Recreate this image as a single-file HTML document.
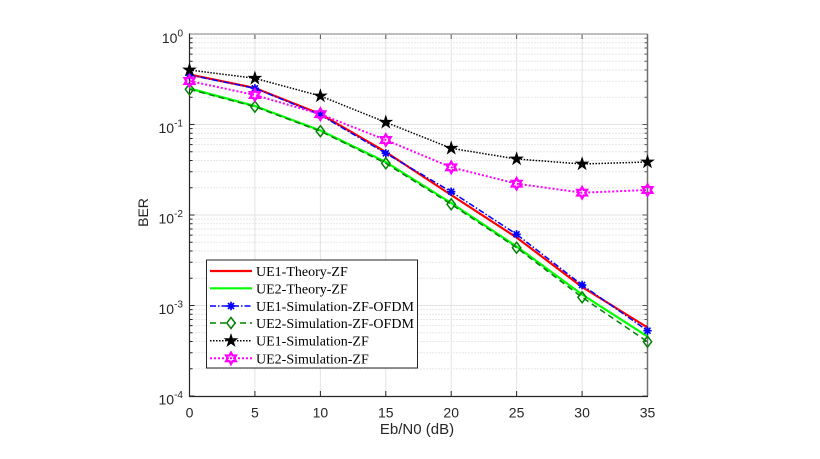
<!DOCTYPE html>
<html><head><meta charset="utf-8"><style>
html,body{margin:0;padding:0;background:#fff;}
svg{display:block;}
</style></head><body>
<svg width="820" height="459" viewBox="0 0 820 459" xmlns="http://www.w3.org/2000/svg">
<defs>
<g id="dec">
<path d="M189.5,4.1H647.5M189.5,8.8H647.5M189.5,14H647.5M189.5,20.1H647.5M189.5,27.2H647.5M189.5,36H647.5M189.5,47.3H647.5M189.5,63.2H647.5" stroke="#cfcfcf" stroke-width="1" stroke-dasharray="1 2" fill="none"/>
<path d="M189.5,4.1h3M189.5,8.8h3M189.5,14h3M189.5,20.1h3M189.5,27.2h3M189.5,36h3M189.5,47.3h3M189.5,63.2h3" stroke="#262626" stroke-width="1"/>
<path d="M647.5,4.1h-3M647.5,8.8h-3M647.5,14h-3M647.5,20.1h-3M647.5,27.2h-3M647.5,36h-3M647.5,47.3h-3M647.5,63.2h-3" stroke="#555" stroke-width="1"/>
</g>
<g id="ast"><path d="M-4.2,0H4.2M0,-4.2V4.2M-3,-3L3,3M-3,3L3,-3" stroke="#0000ff" stroke-width="1.7" fill="none"/></g>
<g id="dia"><polygon points="0,-5.5 4.2,0 0,5.5 -4.2,0" fill="none" stroke="#008000" stroke-width="1.5"/></g>
<g id="pstar"><polygon points="0,-6.3 1.43,-1.96 6,-1.95 2.31,0.75 3.7,5.1 0,2.43 -3.7,5.1 -2.31,0.75 -6,-1.95 -1.43,-1.96" fill="#000" stroke="#000" stroke-width="0.9"/></g>
<g id="hstar"><polygon points="0,-5.6 1.6,-2.8 4.85,-2.8 3.2,0 4.85,2.8 1.6,2.8 0,5.6 -1.6,2.8 -4.85,2.8 -3.2,0 -4.85,-2.8 -1.6,-2.8" fill="none" stroke="#ff00ff" stroke-width="2.3"/></g>
</defs>

<rect x="0" y="0" width="820" height="459" fill="#fff"/>

<use href="#dec" transform="translate(0,34)"/>
<use href="#dec" transform="translate(0,124.5)"/>
<use href="#dec" transform="translate(0,215)"/>
<use href="#dec" transform="translate(0,305.5)"/>

<path d="M189.5,124.5H647.5M189.5,215H647.5M189.5,305.5H647.5" stroke="#e3e3e3" stroke-width="1"/>
<path d="M254.9,34V396M320.4,34V396M385.8,34V396M451.2,34V396M516.6,34V396M582.1,34V396" stroke="#e3e3e3" stroke-width="1"/>

<path d="M189.5,124.5h5M189.5,215h5M189.5,305.5h5M189.5,34h5M189.5,396h5" stroke="#262626" stroke-width="1"/>
<path d="M647.5,124.5h-5M647.5,215h-5M647.5,305.5h-5M647.5,34h-5M647.5,396h-5" stroke="#555" stroke-width="1"/>
<path d="M254.9,396v-5M320.4,396v-5M385.8,396v-5M451.2,396v-5M516.6,396v-5M582.1,396v-5" stroke="#262626" stroke-width="1"/>
<path d="M254.9,34v5M320.4,34v5M385.8,34v5M451.2,34v5M516.6,34v5M582.1,34v5" stroke="#555" stroke-width="1"/>

<path d="M189.5,34H647.5" stroke="#a8a8a8" stroke-width="1.5"/>
<path d="M647.5,34V396" stroke="#707070" stroke-width="1.5"/>
<path d="M189.5,33.5V396.5H648" stroke="#262626" stroke-width="1.2" fill="none"/>

<g fill="none" stroke-linejoin="round">
<polyline points="189.5,74.5 254.9,88 320.4,114 385.8,152 451.2,195 516.6,237.5 582.1,287 647.5,327.5" stroke="#ff0000" stroke-width="2.2"/>
<polyline points="189.5,88.5 254.9,106 320.4,130.5 385.8,162 451.2,203 516.6,246.5 582.1,294.5 647.5,336.5" stroke="#00ff00" stroke-width="2.2"/>
<polyline points="189.5,75 254.9,88.3 320.4,115 385.8,153.3 451.2,191.7 516.6,234.3 582.1,285 647.5,330.7" stroke="#0000ff" stroke-width="1.5" stroke-dasharray="6 2 1.5 2"/>
<polyline points="189.5,89.3 254.9,106.7 320.4,131.2 385.8,163.3 451.2,204.3 516.6,247.7 582.1,297.3 647.5,341.7" stroke="#008000" stroke-width="1.5" stroke-dasharray="6 4"/>
<polyline points="189.5,70 254.9,78.3 320.4,96 385.8,122.3 451.2,148.3 516.6,159 582.1,164 647.5,162" stroke="#000" stroke-width="1.5" stroke-dasharray="1.5 1.5"/>
<polyline points="189.5,81 254.9,95 320.4,114.2 385.8,140 451.2,167.3 516.6,183.7 582.1,192.7 647.5,190" stroke="#ff00ff" stroke-width="2" stroke-dasharray="2 2"/>
</g>

<use href="#ast" x="189.5" y="75"/><use href="#ast" x="254.9" y="88.3"/><use href="#ast" x="320.4" y="115"/><use href="#ast" x="385.8" y="153.3"/><use href="#ast" x="451.2" y="191.7"/><use href="#ast" x="516.6" y="234.3"/><use href="#ast" x="582.1" y="285"/><use href="#ast" x="647.5" y="330.7"/>
<use href="#dia" x="189.5" y="89.3"/><use href="#dia" x="254.9" y="106.7"/><use href="#dia" x="320.4" y="131.2"/><use href="#dia" x="385.8" y="163.3"/><use href="#dia" x="451.2" y="204.3"/><use href="#dia" x="516.6" y="247.7"/><use href="#dia" x="582.1" y="297.3"/><use href="#dia" x="647.5" y="341.7"/>
<use href="#pstar" x="189.5" y="70"/><use href="#pstar" x="254.9" y="78.3"/><use href="#pstar" x="320.4" y="96"/><use href="#pstar" x="385.8" y="122.3"/><use href="#pstar" x="451.2" y="148.3"/><use href="#pstar" x="516.6" y="159"/><use href="#pstar" x="582.1" y="164"/><use href="#pstar" x="647.5" y="162"/>
<use href="#hstar" x="189.5" y="81"/><use href="#hstar" x="254.9" y="95"/><use href="#hstar" x="320.4" y="114.2"/><use href="#hstar" x="385.8" y="140"/><use href="#hstar" x="451.2" y="167.3"/><use href="#hstar" x="516.6" y="183.7"/><use href="#hstar" x="582.1" y="192.7"/><use href="#hstar" x="647.5" y="190"/>

<g font-family="Liberation Sans, Arial, sans-serif" font-size="14" fill="#262626" text-anchor="middle">
<text x="189.5" y="417.3">0</text>
<text x="254.9" y="417.3">5</text>
<text x="320.4" y="417.3">10</text>
<text x="385.8" y="417.3">15</text>
<text x="451.2" y="417.3">20</text>
<text x="516.6" y="417.3">25</text>
<text x="582.1" y="417.3">30</text>
<text x="647.5" y="417.3">35</text>
</g>

<g font-family="Liberation Sans, Arial, sans-serif" font-size="14" fill="#262626" text-anchor="end">
<text x="183" y="42.8">10<tspan font-size="10" dy="-6.5">0</tspan></text>
<text x="183" y="133.2">10<tspan font-size="10" dy="-6.5">-1</tspan></text>
<text x="183" y="223.7">10<tspan font-size="10" dy="-6.5">-2</tspan></text>
<text x="183" y="314.2">10<tspan font-size="10" dy="-6.5">-3</tspan></text>
<text x="183" y="404.3">10<tspan font-size="10" dy="-6.5">-4</tspan></text>
</g>

<text x="417" y="434" font-family="Liberation Sans, Arial, sans-serif" font-size="15" fill="#262626" text-anchor="middle">Eb/N0 (dB)</text>
<text transform="translate(148,212.5) rotate(-90)" font-family="Liberation Sans, Arial, sans-serif" font-size="14" fill="#262626" text-anchor="middle">BER</text>

<rect x="206.5" y="260" width="211" height="108" fill="#fff" stroke="#262626" stroke-width="1"/>
<g fill="none">
<path d="M210,271H252" stroke="#ff0000" stroke-width="2.2"/>
<path d="M210,288.3H252" stroke="#00ff00" stroke-width="2.2"/>
<path d="M210,306H252" stroke="#0000ff" stroke-width="1.5" stroke-dasharray="6 2 1.5 2"/>
<path d="M210,323H252" stroke="#008000" stroke-width="1.5" stroke-dasharray="6 4"/>
<path d="M210,340.7H252" stroke="#000" stroke-width="1.5" stroke-dasharray="1.5 1.5"/>
<path d="M210,358.3H252" stroke="#ff00ff" stroke-width="2" stroke-dasharray="2 2"/>
</g>
<use href="#ast" x="231" y="306"/>
<rect x="227" y="317.5" width="8" height="11" fill="#fff"/>
<use href="#dia" x="231" y="323"/>
<use href="#pstar" x="231" y="340.7"/>
<use href="#hstar" x="231" y="358.3"/>
<g font-family="Liberation Serif, Times New Roman, serif" font-size="14" fill="#000">
<text x="256" y="276">UE1-Theory-ZF</text>
<text x="256" y="293.3">UE2-Theory-ZF</text>
<text x="256" y="311">UE1-Simulation-ZF-OFDM</text>
<text x="256" y="328">UE2-Simulation-ZF-OFDM</text>
<text x="256" y="345.7">UE1-Simulation-ZF</text>
<text x="256" y="363.3">UE2-Simulation-ZF</text>
</g>
</svg>
</body></html>
